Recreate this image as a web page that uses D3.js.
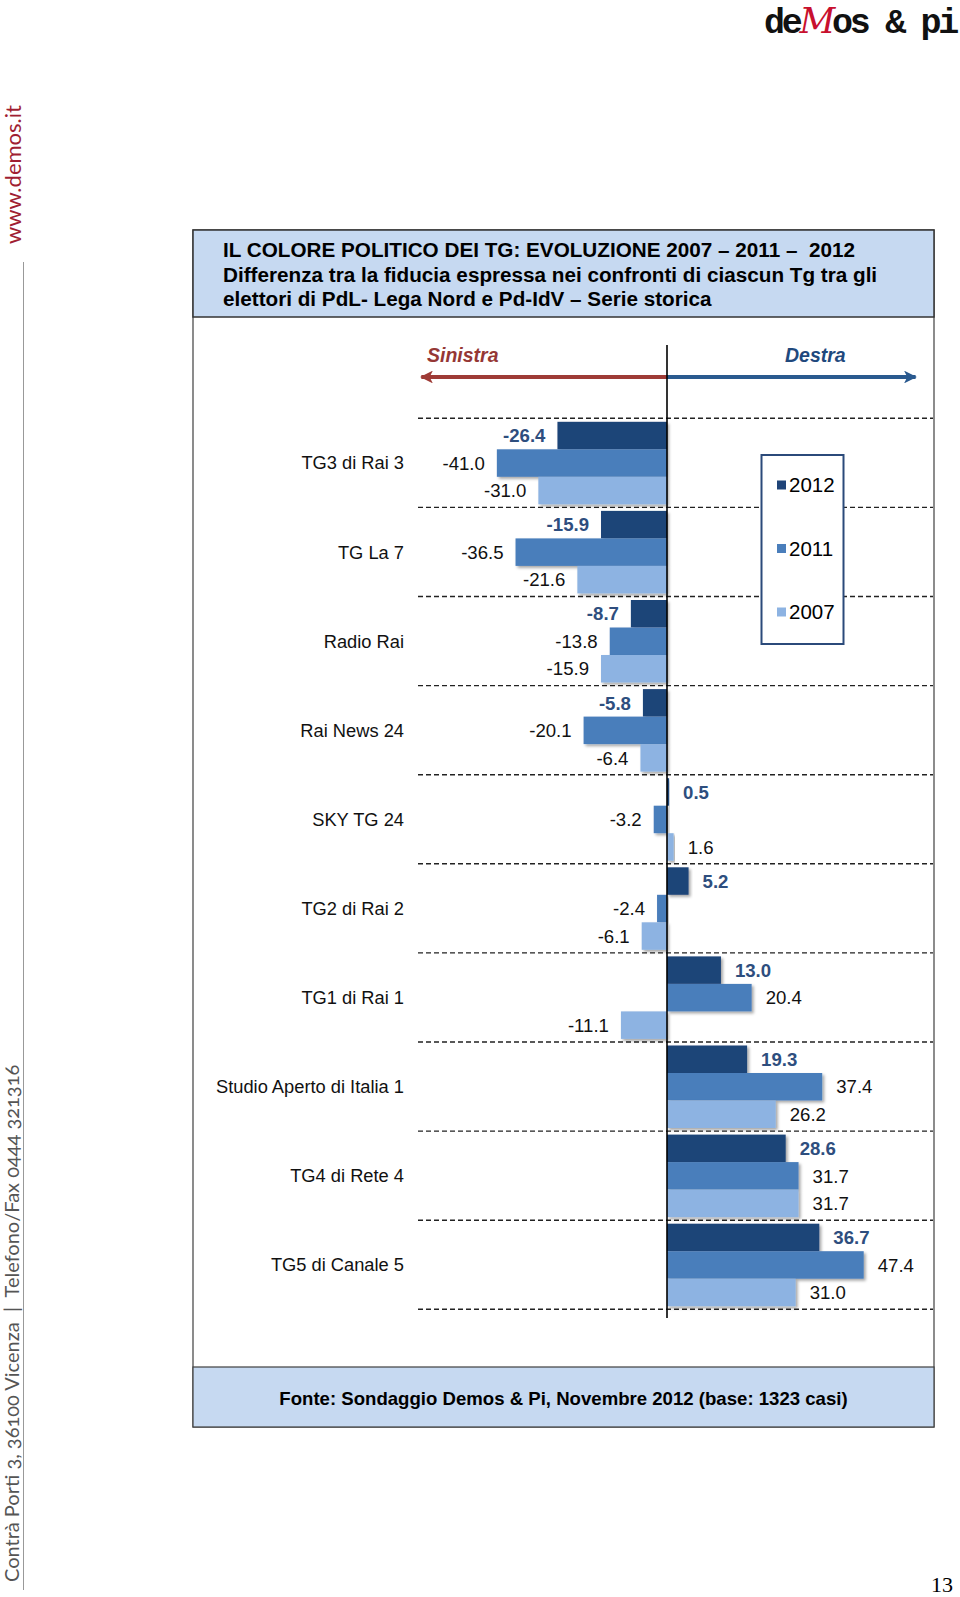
<!DOCTYPE html>
<html>
<head>
<meta charset="utf-8">
<script src="https://cdn.jsdelivr.net/npm/d3@7"></script>
<style>
  body { margin: 0; background: #fff; }
  svg text { font-family: "Liberation Sans", Arial, sans-serif; }
</style>
</head>
<body>
<div id="chart-area"></div>
<script>
var categories = ["TG3 di Rai 3", "TG La 7", "Radio Rai", "Rai News 24", "SKY TG 24",
  "TG2 di Rai 2", "TG1 di Rai 1", "Studio Aperto di Italia 1", "TG4 di Rete 4", "TG5 di Canale 5"]
var years = ["2012", "2011", "2007"]
var values2012 = [-26.4, -15.9, -8.7, -5.8, 0.5, 5.2, 13.0, 19.3, 28.6, 36.7]
var values2011 = [-41.0, -36.5, -13.8, -20.1, -3.2, -2.4, 20.4, 37.4, 31.7, 47.4]
var values2007 = [-31.0, -21.6, -15.9, -6.4, 1.6, -6.1, -11.1, 26.2, 31.7, 31.0]
var titleLines = ["IL COLORE POLITICO DEI TG: EVOLUZIONE 2007 \u2013 2011 \u2013  2012",
  "Differenza tra la fiducia espressa nei confronti di ciascun Tg tra gli",
  "elettori di PdL- Lega Nord e Pd-IdV \u2013 Serie storica"]
var sourceText = "Fonte: Sondaggio Demos & Pi, Novembre 2012 (base: 1323 casi)"

var canvasWidth = 960
var canvasHeight = 1597
var frame = {left: 193, right: 934, top: 230, bottom: 1427, titleBottom: 317, footTop: 1367}
var colors = {"2012": "#1F4478", "2011": "#4A7EBB", "2007": "#8DB3E2"}

var series = years.map(function(y) {
  var vals = y == "2012" ? values2012 : (y == "2011" ? values2011 : values2007)
  return {year: y, values: vals}
})

var svg = d3.select("#chart-area")
  .append("svg")
  .attr("width", canvasWidth)
  .attr("height", canvasHeight)

var defs = svg.append("defs")
var shadow = defs.append("filter").attr("id", "shadow")
  .attr("x", "-10%").attr("y", "-10%").attr("width", "130%").attr("height", "140%")
shadow.append("feDropShadow")
  .attr("dx", 2).attr("dy", 2).attr("stdDeviation", 1.4)
  .attr("flood-color", "#000").attr("flood-opacity", 0.35)

function arrowMarker(id, color) {
  defs.append("marker")
    .attr("id", id)
    .attr("viewBox", "0 0 10 10")
    .attr("refX", 9).attr("refY", 5)
    .attr("markerWidth", 4).attr("markerHeight", 3.2)
    .attr("orient", "auto")
    .append("path")
    .attr("d", "M0,0 L10,5 L0,10 L2.5,5 Z")
    .attr("fill", color)
}
arrowMarker("arrowRed", "#9E3B36")
arrowMarker("arrowBlue", "#2A5A8F")

// scales
var x = d3.scaleLinear()
  .domain([-50, 50])
  .range([459.5, 874.5])

var y = d3.scaleBand()
  .domain(categories)
  .range([418.3, 418.3 + 89.1 * categories.length])

var yInner = d3.scaleBand()
  .domain(years)
  .range([3.5, 86])

// page decorations
svg.append("text")
  .attr("x", 956).attr("y", 33)
  .attr("text-anchor", "end")
  .style("font-family", "'Liberation Mono', 'DejaVu Sans Mono', monospace")
  .attr("font-weight", "bold")
  .attr("font-size", "35px")
  .attr("letter-spacing", "-3.3px")
  .attr("fill", "#111")
  .call(function(t) {
    t.append("tspan").text("de")
    t.append("tspan").text("M").attr("fill", "#C8102E")
      .attr("font-style", "italic")
      .attr("font-weight", "normal")
      .style("font-family", "'DejaVu Serif', serif")
    t.append("tspan").text("os & pi")
  })

svg.append("text")
  .attr("transform", "translate(21,244) rotate(-90)")
  .attr("font-size", "22px")
  .attr("fill", "#A01E32")
  .style("font-family", "Lato, 'Open Sans', sans-serif")
  .text("www.demos.it")

svg.append("line")
  .attr("x1", 23.5).attr("x2", 23.5)
  .attr("y1", 262).attr("y2", 1590)
  .attr("stroke", "#999").attr("stroke-width", 1)

svg.append("text")
  .attr("transform", "translate(19,1582) rotate(-90)")
  .attr("font-size", "20px")
  .attr("fill", "#555")
  .style("font-family", "Lato, 'Open Sans', sans-serif")
  .style("font-variant-numeric", "oldstyle-nums")
  .style("white-space", "pre")
  .text("Contr\u00e0 Porti 3, 36100 Vicenza  |  Telefono/Fax 0444 321316")

svg.append("text")
  .attr("x", 953).attr("y", 1592)
  .attr("text-anchor", "end")
  .attr("font-size", "22px")
  .style("font-family", "'Liberation Serif', 'Times New Roman', serif")
  .text("13")

// frame, title and source boxes
svg.append("rect")
  .attr("x", frame.left).attr("y", frame.top)
  .attr("width", frame.right - frame.left)
  .attr("height", frame.bottom - frame.top)
  .attr("fill", "#fff").attr("stroke", "#404040").attr("stroke-width", 1.2)

svg.append("rect")
  .attr("x", frame.left).attr("y", frame.top)
  .attr("width", frame.right - frame.left)
  .attr("height", frame.titleBottom - frame.top)
  .attr("fill", "#C6D9F1").attr("stroke", "#333").attr("stroke-width", 1.5)

svg.append("rect")
  .attr("x", frame.left).attr("y", frame.footTop)
  .attr("width", frame.right - frame.left)
  .attr("height", frame.bottom - frame.footTop)
  .attr("fill", "#C6D9F1").attr("stroke", "#404040").attr("stroke-width", 1.2)

svg.append("g").selectAll("text")
  .data(titleLines)
  .enter().append("text")
    .attr("x", 223)
    .attr("y", function(d, i) { return 257 + i * 24.5 })
    .attr("font-weight", "bold")
    .attr("font-size", "20.7px")
    .attr("fill", "#000")
    .style("white-space", "pre")
    .text(function(d) { return d })

svg.append("text")
  .attr("x", (frame.left + frame.right) / 2)
  .attr("y", 1405)
  .attr("text-anchor", "middle")
  .attr("font-weight", "bold")
  .attr("font-size", "18.6px")
  .text(sourceText)

// direction arrows
var arrowY = 377
svg.append("line")
  .attr("x1", x(0)).attr("x2", x(-59.2))
  .attr("y1", arrowY).attr("y2", arrowY)
  .attr("stroke", "#9E3B36").attr("stroke-width", 4)
  .attr("marker-end", "url(#arrowRed)")
svg.append("line")
  .attr("x1", x(0)).attr("x2", x(59.9))
  .attr("y1", arrowY).attr("y2", arrowY)
  .attr("stroke", "#2A5A8F").attr("stroke-width", 4)
  .attr("marker-end", "url(#arrowBlue)")

svg.append("text")
  .attr("x", 427).attr("y", 362)
  .attr("font-weight", "bold").attr("font-style", "italic")
  .attr("font-size", "19.5px").attr("fill", "#953735")
  .text("Sinistra")
svg.append("text")
  .attr("x", 785).attr("y", 362)
  .attr("font-weight", "bold").attr("font-style", "italic")
  .attr("font-size", "19.5px").attr("fill", "#1F497D")
  .text("Destra")

// dashed separators
var seps = [y.range()[0]].concat(categories.map(function(c) { return y(c) + y.bandwidth() }))
svg.append("g").selectAll("line")
  .data(seps)
  .enter().append("line")
    .attr("x1", x(-60)).attr("x2", frame.right - 1)
    .attr("y1", function(d) { return d }).attr("y2", function(d) { return d })
    .attr("stroke", "#222").attr("stroke-width", 1.4)
    .attr("stroke-dasharray", "5,3")

// legend
var legend = svg.append("g")
legend.append("rect")
  .attr("x", 761.5).attr("y", 455)
  .attr("width", 82).attr("height", 189)
  .attr("fill", "#fff").attr("stroke", "#2B4A7A").attr("stroke-width", 2)
var legendRow = d3.scalePoint().domain(years).range([485, 612])
legend.selectAll("rect.key")
  .data(years)
  .enter().append("rect")
    .attr("class", "key")
    .attr("x", 777).attr("y", function(d) { return legendRow(d) - 4.5 })
    .attr("width", 9).attr("height", 9)
    .attr("fill", function(d) { return colors[d] })
legend.selectAll("text")
  .data(years)
  .enter().append("text")
    .attr("x", 789).attr("y", function(d) { return legendRow(d) })
    .attr("dy", "0.36em")
    .attr("font-size", "20.5px")
    .text(function(d) { return d })

// bars
var groups = svg.append("g").selectAll("g")
  .data(categories)
  .enter().append("g")
    .attr("transform", function(d) { return "translate(0," + y(d) + ")" })

groups.selectAll("rect")
  .data(function(d, i) {
    return series.map(function(s) { return {year: s.year, value: s.values[i]} })
  })
  .enter().append("rect")
    .attr("x", function(d) { return x(Math.min(0, d.value)) })
    .attr("y", function(d) { return yInner(d.year) })
    .attr("width", function(d) { return Math.abs(x(d.value) - x(0)) })
    .attr("height", yInner.bandwidth())
    .attr("fill", function(d) { return colors[d.year] })
    .attr("filter", "url(#shadow)")

groups.selectAll("text.value")
  .data(function(d, i) {
    return series.map(function(s) { return {year: s.year, value: s.values[i]} })
  })
  .enter().append("text")
    .attr("class", "value")
    .attr("x", function(d) { return d.value < 0 ? x(d.value) - 12 : x(d.value) + 14 })
    .attr("y", function(d) { return yInner(d.year) + yInner.bandwidth() / 2 })
    .attr("dy", "0.36em")
    .attr("text-anchor", function(d) { return d.value < 0 ? "end" : "start" })
    .attr("font-size", "18.6px")
    .attr("font-weight", function(d) { return d.year == "2012" ? "bold" : "normal" })
    .attr("fill", function(d) { return d.year == "2012" ? "#2E4E7E" : "#111" })
    .text(function(d) { return d.value.toFixed(1) })

groups.append("text")
  .attr("x", 404)
  .attr("y", y.bandwidth() / 2)
  .attr("dy", "0.36em")
  .attr("text-anchor", "end")
  .attr("font-size", "18.3px")
  .attr("fill", "#111")
  .text(function(d) { return d })

// zero line
svg.append("line")
  .attr("x1", x(0)).attr("x2", x(0))
  .attr("y1", 345).attr("y2", 1318)
  .attr("stroke", "#000").attr("stroke-width", 1.6)
</script>
</body>
</html>
